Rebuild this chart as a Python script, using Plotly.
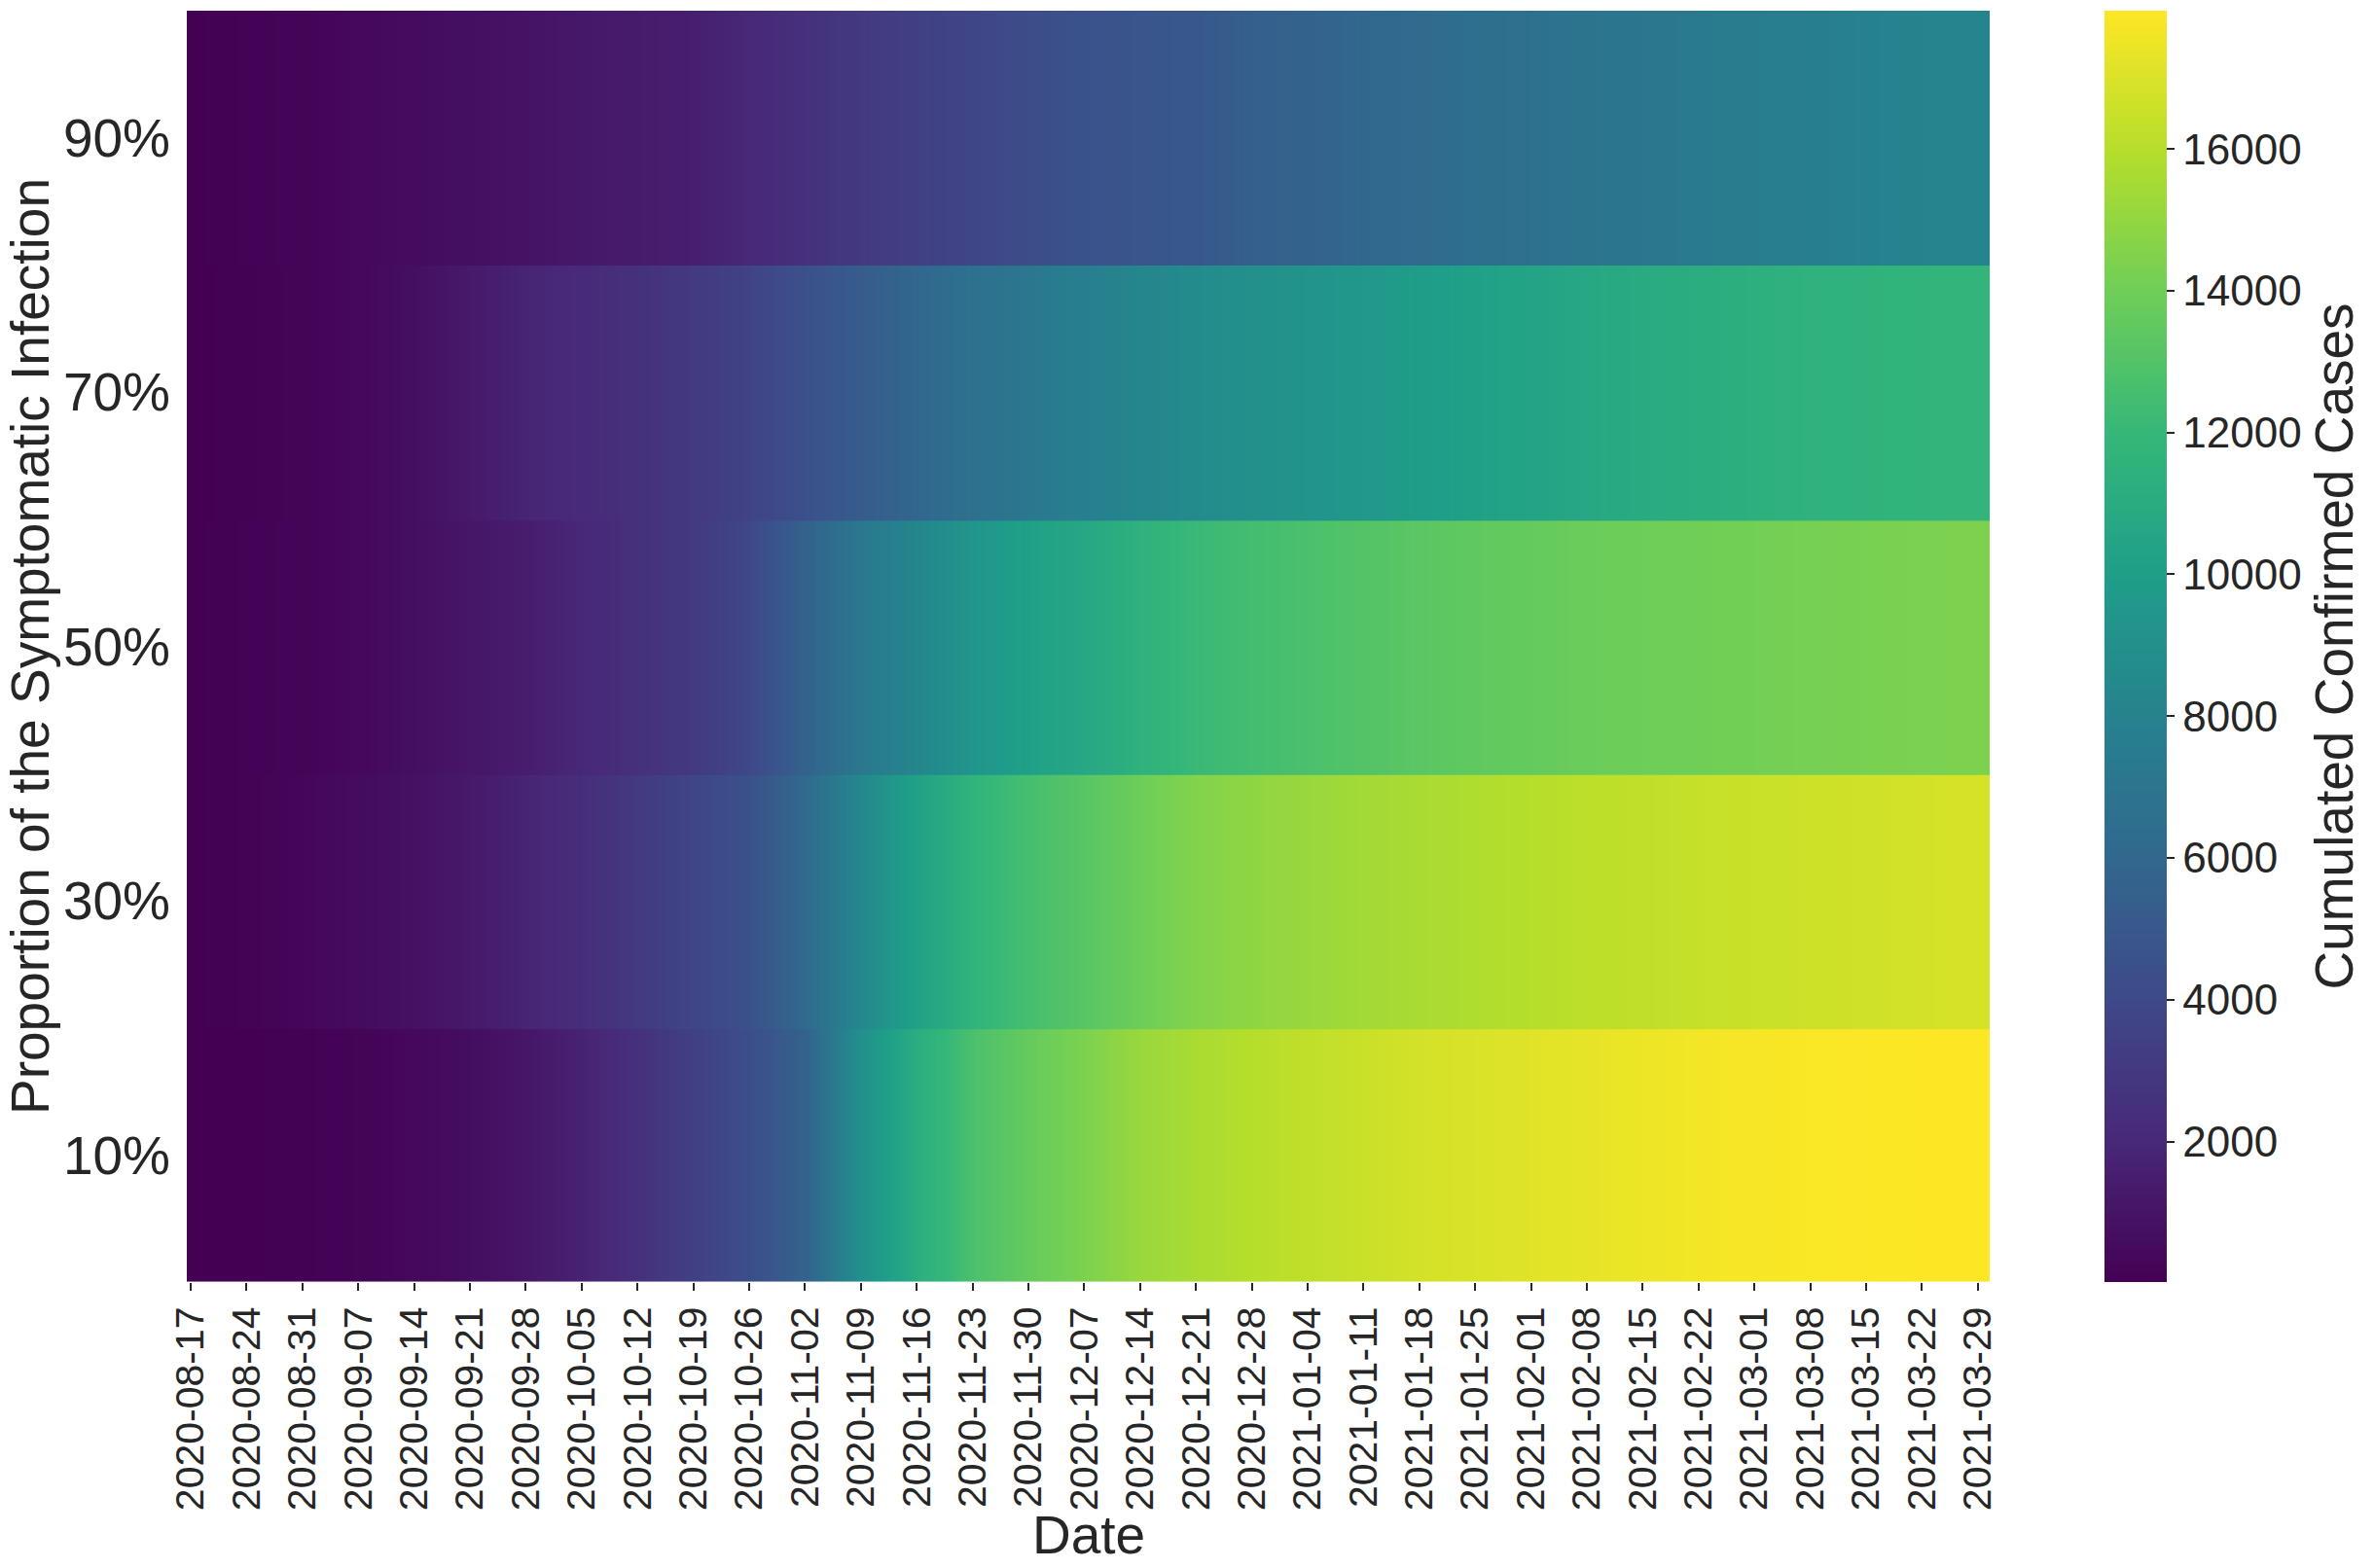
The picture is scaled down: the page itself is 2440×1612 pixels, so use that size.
import plotly.graph_objects as go

# Weekly tick dates (x categories)
dates = ["2020-08-17", "2020-08-24", "2020-08-31", "2020-09-07", "2020-09-14", "2020-09-21",
         "2020-09-28", "2020-10-05", "2020-10-12", "2020-10-19", "2020-10-26", "2020-11-02",
         "2020-11-09", "2020-11-16", "2020-11-23", "2020-11-30", "2020-12-07", "2020-12-14",
         "2020-12-21", "2020-12-28", "2021-01-04", "2021-01-11", "2021-01-18", "2021-01-25",
         "2021-02-01", "2021-02-08", "2021-02-15", "2021-02-22", "2021-03-01", "2021-03-08",
         "2021-03-15", "2021-03-22", "2021-03-29"]

row_labels = ["10%", "30%", "50%", "70%", "90%"]

# Cumulated confirmed cases, read at each weekly tick
cases_10 = [18, 30, 75, 165, 380, 650, 1100, 1720, 2530, 3430, 4320, 5580, 8990, 11140, 12750,
            13650, 14360, 15170, 15620, 15980, 16250, 16520, 16780, 16960, 17140, 17320, 17500,
            17680, 17770, 17860, 17910, 17940, 17950]
cases_30 = [20, 110, 290, 560, 830, 1270, 1810, 2350, 3070, 3790, 4500, 6120, 8450, 10240, 11670,
            12570, 13200, 13920, 14540, 14900, 15170, 15440, 15620, 15800, 15980, 16160, 16250,
            16430, 16520, 16600, 16690, 16780, 16870]
cases_50 = [20, 110, 200, 380, 740, 1100, 1450, 1990, 2530, 3070, 3960, 5580, 7190, 8270, 9340,
            10150, 10690, 11490, 12120, 12480, 12750, 13020, 13290, 13470, 13650, 13830, 13920,
            14010, 14090, 14180, 14270, 14330, 14360]
cases_70 = [20, 75, 200, 380, 740, 1270, 1810, 2170, 2530, 3070, 3610, 4500, 5220, 5940, 6650,
            7190, 7730, 8270, 8630, 8990, 9250, 9520, 9880, 10150, 10420, 10690, 10960, 11140,
            11320, 11500, 11590, 11680, 11760]
cases_90 = [20, 110, 200, 380, 560, 740, 920, 1190, 1360, 1540, 1990, 2530, 3070, 3430, 3790,
            4230, 4590, 4770, 4950, 5400, 5670, 5940, 6210, 6470, 6650, 6920, 7100, 7370, 7550,
            7730, 7910, 8090, 8180]

cbar_ticks = [2000, 4000, 6000, 8000, 10000, 12000, 14000, 16000]

rows = [cases_10, cases_30, cases_50, cases_70, cases_90]
all_vals = [v for r in rows for v in r]
zmin, zmax = min(all_vals), max(all_vals)

TXT = "#262626"
FONT = "Liberation Sans, Arial, sans-serif"

fig = go.Figure()
for i, r in enumerate(rows):
    # slight overlap between rows avoids anti-aliasing seams
    fig.add_trace(go.Heatmap(
        x=dates, y=[i - 0.252, i + 0.252], z=[r, r],
        coloraxis="coloraxis", zsmooth="best", hoverinfo="skip",
    ))

fig.update_layout(
    width=2440, height=1612,
    margin=dict(l=192, r=388, t=11, b=294, pad=0),
    paper_bgcolor="white", plot_bgcolor="white",
    font=dict(family=FONT, color=TXT),
    coloraxis=dict(
        colorscale="Viridis", cmin=zmin, cmax=zmax,
        colorbar=dict(
            thickness=64, thicknessmode="pixels",
            len=1.0, lenmode="fraction", y=0.5, yanchor="middle",
            x=(2170 - 192) / 1860, xanchor="left", xpad=0, ypad=0,
            outlinewidth=0,
            tickvals=cbar_ticks, ticktext=[str(t) for t in cbar_ticks],
            ticks="outside", ticklen=8, tickwidth=2, tickcolor=TXT,
            tickfont=dict(size=44, color=TXT, family=FONT),
            title=dict(text="Cumulated Confirmed Cases", side="right",
                       font=dict(size=55, color=TXT, family=FONT)),
        ),
    ),
    xaxis=dict(
        type="date",
        range=["2020-08-16 12:00", "2021-03-30 12:00"],
        tickvals=dates, ticktext=dates,
        tickangle=-90,
        ticks="outside", ticklen=8, tickwidth=2, tickcolor=TXT,
        tickfont=dict(size=41, color=TXT, family=FONT),
        showgrid=False, zeroline=False, showline=False,
        automargin=False,
    ),
    yaxis=dict(
        range=[-0.5, 4.5],
        tickvals=[0, 1, 2, 3, 4], ticktext=row_labels,
        ticks="", ticklabelstandoff=16,
        tickfont=dict(size=55, color=TXT, family=FONT),
        showgrid=False, zeroline=False, showline=False,
        title=dict(text="Proportion of the Symptomatic Infection",
                   font=dict(size=55, color=TXT, family=FONT), standoff=6),
        automargin=False,
    ),
    annotations=[dict(
        text="Date", xref="paper", yref="paper", x=0.5, y=-(1578 - 1318) / 1307,
        xanchor="center", yanchor="middle", showarrow=False,
        font=dict(size=55, color=TXT, family=FONT),
    )],
)

fig.write_html("out.html", config={"displayModeBar": False},
               post_script="document.body.style.margin='0';")
